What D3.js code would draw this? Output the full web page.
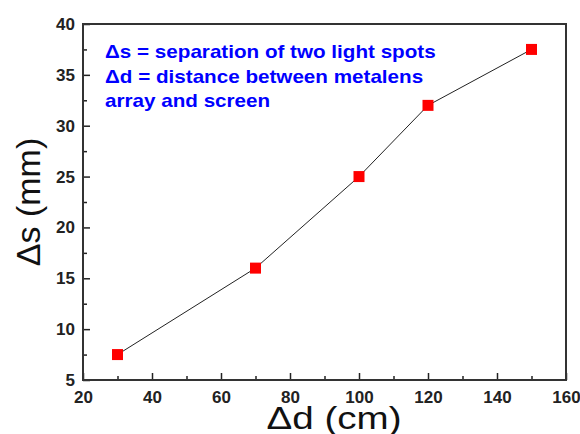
<!DOCTYPE html>
<html>
<head>
<meta charset="utf-8">
<script src="https://cdn.jsdelivr.net/npm/d3@7"></script>
<style>
  body { margin: 0; background: #fff; }
  svg { display: block; }
</style>
</head>
<body>
<div id="chart"></div>
<script>
'use strict';

// data
var distance = [30, 70, 100, 120, 150];      // Δd (cm)
var separation = [7.5, 16, 25, 32, 37.5];    // Δs (mm)
var xTicks = [20, 40, 60, 80, 100, 120, 140, 160];
var xMinor = [30, 50, 70, 90, 110, 130, 150];
var yTicks = [5, 10, 15, 20, 25, 30, 35, 40];
var yMinor = [7.5, 12.5, 17.5, 22.5, 27.5, 32.5, 37.5];
var notes = ['\u0394s = separation of two light spots',
             '\u0394d = distance between metalens',
             'array and screen'];

var W = 580, H = 434;
var m = {top: 24, right: 14, bottom: 54, left: 83};
var w = W - m.left - m.right, h = H - m.top - m.bottom;
var font = '"Liberation Sans", Arial, sans-serif';

var svg = d3.select('#chart').append('svg')
    .attr('width', W)
    .attr('height', H);

var g = svg.append('g')
    .attr('transform', 'translate(' + m.left + ',' + m.top + ')');

var x = d3.scaleLinear().domain([20, 160]).range([0, w]);
var y = d3.scaleLinear().domain([5, 40]).range([h, 0]);

//eixos (ticks para dentro)
g.append('g')
    .attr('class', 'axis')
    .attr('transform', 'translate(0,' + h + ')')
    .call(d3.axisBottom(x).tickValues(xTicks).tickSizeInner(-7).tickSizeOuter(0).tickPadding(11));
g.append('g')
    .attr('transform', 'translate(0,' + h + ')')
    .call(d3.axisBottom(x).tickValues(xMinor).tickSizeInner(-4).tickSizeOuter(0).tickFormat(''));
g.append('g')
    .attr('class', 'axis')
    .call(d3.axisLeft(y).tickValues(yTicks).tickSizeInner(-7).tickSizeOuter(0).tickPadding(8));
g.append('g')
    .call(d3.axisLeft(y).tickValues(yMinor).tickSizeInner(-4).tickSizeOuter(0).tickFormat(''));

g.selectAll('.domain').remove();
g.selectAll('.tick line').attr('stroke', '#222').attr('stroke-width', 1.5);
g.selectAll('.axis .tick text')
    .attr('font-family', font)
    .attr('font-weight', 'bold')
    .attr('font-size', 17)
    .attr('fill', '#222');

// moldura
g.append('rect')
    .attr('x', 0).attr('y', 0)
    .attr('width', w).attr('height', h)
    .attr('fill', 'none')
    .attr('stroke', '#333')
    .attr('stroke-width', 2);

var pts = distance.map(function(d, i) { return [d, separation[i]]; });

g.append('path')
    .datum(pts)
    .attr('fill', 'none')
    .attr('stroke', '#222')
    .attr('stroke-width', 1)
    .attr('d', d3.line().x(function(d) { return x(d[0]); }).y(function(d) { return y(d[1]); }));

var s = 11;
g.selectAll('rect.pt')
    .data(pts)
    .enter()
    .append('rect')
    .attr('class', 'pt')
    .attr('x', function(d) { return x(d[0]) - s / 2; })
    .attr('y', function(d) { return y(d[1]) - s / 2; })
    .attr('width', s)
    .attr('height', s)
    .attr('fill', '#ff0000');

// legenda em azul (esticada na horizontal como no original)
g.selectAll('text.note')
    .data(notes)
    .enter()
    .append('text')
    .attr('class', 'note')
    .attr('transform', function(d, i) { return 'translate(22,' + (34 + i * 24.5) + ') scale(1.18,1)'; })
    .attr('font-family', font)
    .attr('font-weight', 'bold')
    .attr('font-size', 17.5)
    .attr('fill', '#0000ff')
    .text(function(d) { return d; });

// titulos dos eixos
svg.append('text')
    .attr('x', 334)
    .attr('y', 429)
    .attr('text-anchor', 'middle')
    .attr('font-family', font)
    .attr('font-size', 32)
    .attr('fill', '#111')
    .attr('textLength', 135)
    .attr('lengthAdjust', 'spacingAndGlyphs')
    .text('\u0394d (cm)');

svg.append('text')
    .attr('transform', 'translate(40,202) rotate(-90)')
    .attr('text-anchor', 'middle')
    .attr('font-family', font)
    .attr('font-size', 34)
    .attr('fill', '#111')
    .text('\u0394s (mm)');
</script>
</body>
</html>
